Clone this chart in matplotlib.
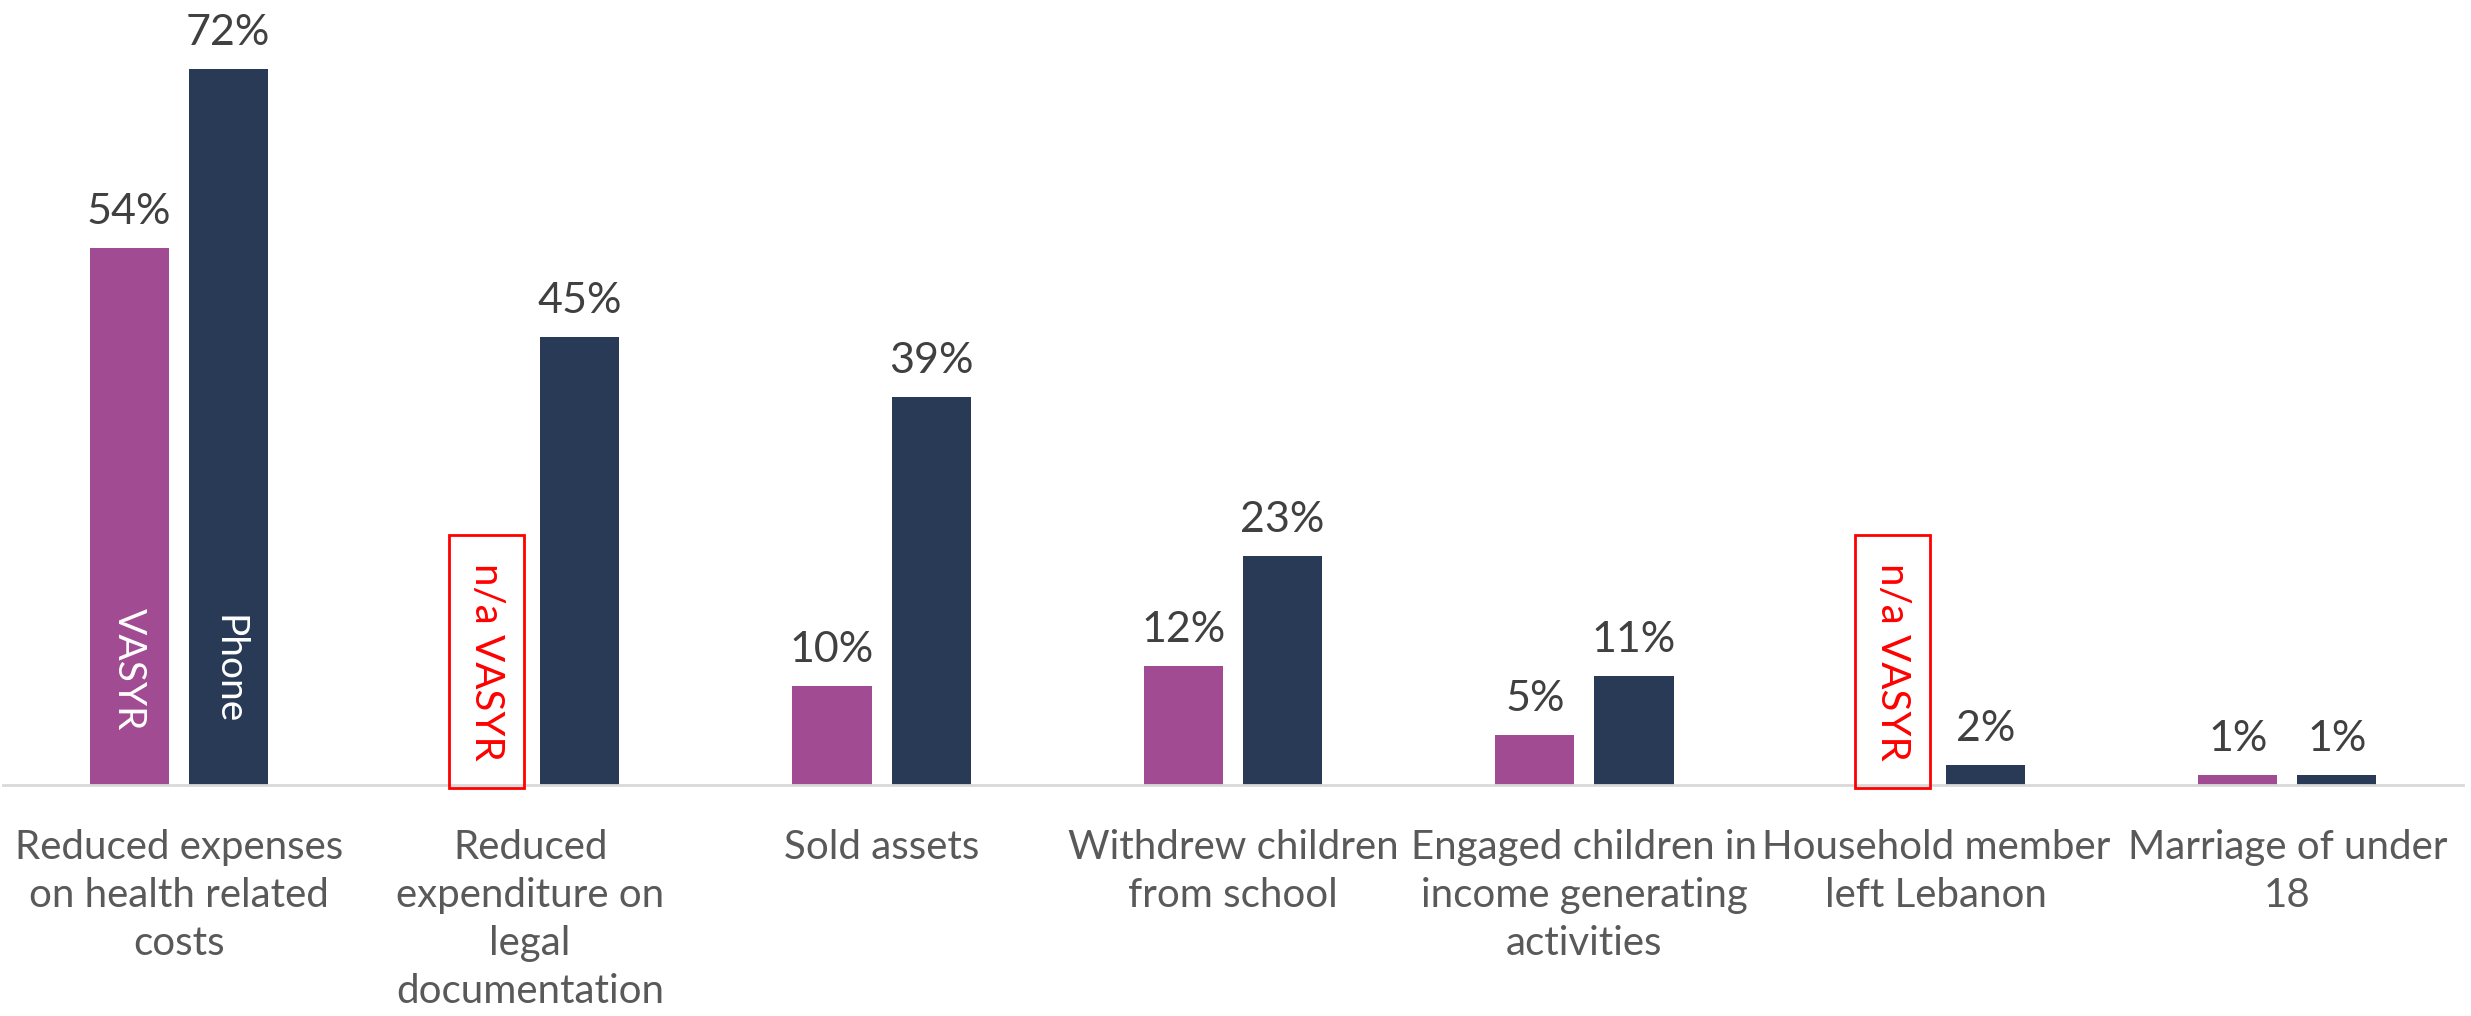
import matplotlib
matplotlib.use("Agg")
import matplotlib.pyplot as plt
from matplotlib.patches import Rectangle

plt.rcParams['font.family'] = ['Lato', 'DejaVu Sans']

categories = [
    "Reduced expenses\non health related\ncosts",
    "Reduced\nexpenditure on\nlegal\ndocumentation",
    "Sold assets",
    "Withdrew children\nfrom school",
    "Engaged children in\nincome generating\nactivities",
    "Household member\nleft Lebanon",
    "Marriage of under\n18",
]
vasyr = [54, None, 10, 12, 5, None, 1]
phone = [72, 45, 39, 23, 11, 2, 1]

VASYR_COLOR = "#A14B93"
PHONE_COLOR = "#283A56"
LABEL_COLOR = "#404040"
CAT_COLOR = "#595959"

fig = plt.figure(figsize=(24.71, 10.16), dpi=100)
ax = fig.add_axes([3 / 2471, 1 - 785 / 1016, 2460 / 2471, 785 / 1016])

width = 0.225
off = 0.141
x = list(range(len(categories)))

for i, (v, p) in enumerate(zip(vasyr, phone)):
    if v is not None:
        ax.bar(i - off, v, width, color=VASYR_COLOR)
        ax.text(i - off, v + 1.7, f"{v}%", ha="center", va="bottom",
                fontsize=31, color=LABEL_COLOR)
    else:
        # placeholder frame where the VASYR figure is unavailable
        cx = i - off + 0.017
        ax.add_patch(Rectangle((cx - 0.107, -0.3), 0.214, 25.4,
                               fill=False, edgecolor="#FF0000", linewidth=2,
                               clip_on=False, zorder=3))
        ax.text(cx, 12.4, "n/a VASYR", rotation=-90, ha="center",
                va="center", fontsize=29, color="#FF0000")
    ax.bar(i + off, p, width, color=PHONE_COLOR)
    ax.text(i + off, p + 1.7, f"{p}%", ha="center", va="bottom",
            fontsize=31, color=LABEL_COLOR)

# series names written inside the first pair of bars
ax.text(0 - off, 11.6, "VASYR", rotation=-90, ha="center", va="center",
        fontsize=28, color="white")
ax.text(0 + off, 11.6, "Phone", rotation=-90, ha="center", va="center",
        fontsize=28, color="white")

ax.set_xlim(-0.5, len(categories) - 0.5)
ax.set_ylim(0, 78.9)
ax.set_xticks(x)
ax.set_xticklabels(categories, fontsize=29, color=CAT_COLOR, linespacing=1.36)
ax.tick_params(axis="x", length=0, pad=32)
ax.set_yticks([])
for s in ["top", "right", "left"]:
    ax.spines[s].set_visible(False)
ax.spines["bottom"].set_color("#D9D9D9")
ax.spines["bottom"].set_linewidth(2)

fig.savefig("out.png", dpi=100, facecolor="white")
